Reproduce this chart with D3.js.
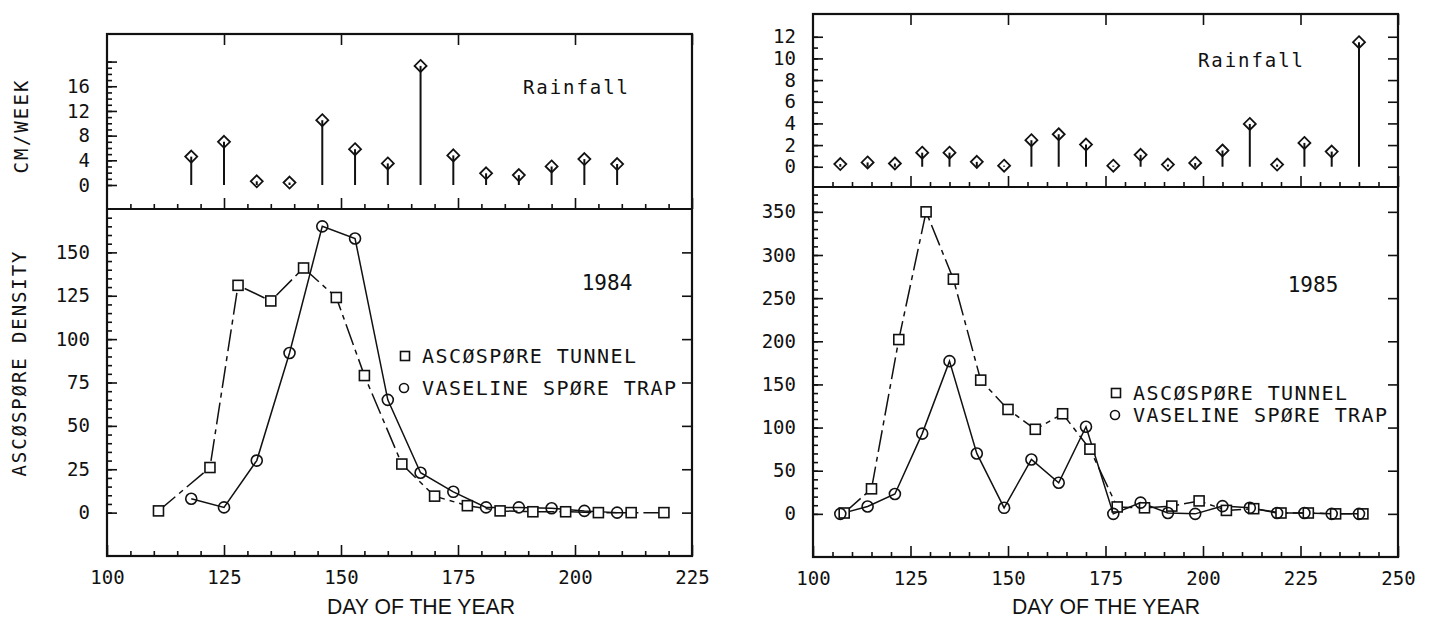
<!DOCTYPE html>
<html>
<head>
<meta charset="utf-8">
<script src="https://cdn.jsdelivr.net/npm/d3@7"></script>
<style>
body { margin: 0; background: #fff; }
svg text { font-family: "DejaVu Sans Mono", monospace; fill: #111; }
</style>
</head>
<body>
<svg width="1434" height="622"></svg>
<script>
// ---- 1984 ----
var rainDays84 = [118, 125, 132, 139, 146, 153, 160, 167, 174, 181, 188, 195, 202, 209];
var rain84 = [4.6, 7.0, 0.6, 0.4, 10.5, 5.8, 3.5, 19.3, 4.8, 1.9, 1.6, 3.0, 4.2, 3.4];
var tunnelDays84 = [111, 122, 128, 135, 142, 149, 155, 163, 170, 177, 184, 191, 198, 205, 212, 219];
var tunnel84 = [1, 26, 131, 122, 141, 124, 79, 28, 9.5, 4, 1, 0.5, 0.5, 0, 0, 0];
var trapDays84 = [118, 125, 132, 139, 146, 153, 160, 167, 174, 181, 188, 195, 202, 209];
var trap84 = [8, 3, 30, 92, 165, 158, 65, 23, 12, 3, 3, 2.5, 1, 0];

// ---- 1985 ----
var rainDays85 = [107, 114, 121, 128, 135, 142, 149, 156, 163, 170, 177, 184, 191, 198, 205, 212, 219, 226, 233, 240];
var rain85 = [0.25, 0.4, 0.3, 1.3, 1.3, 0.45, 0.1, 2.45, 3.0, 2.05, 0.1, 1.1, 0.2, 0.35, 1.5, 3.95, 0.2, 2.2, 1.4, 11.5];
var tunnelDays85 = [108, 115, 122, 129, 136, 143, 150, 157, 164, 171, 178, 185, 192, 199, 206, 213, 220, 227, 234, 241];
var tunnel85 = [1, 29, 202, 350, 272, 155, 121, 98, 116, 75, 8, 7, 9, 15, 4, 6, 1, 1, 0, 0];
var trapDays85 = [107, 114, 121, 128, 135, 142, 149, 156, 163, 170, 177, 184, 191, 198, 205, 212, 219, 226, 233, 240];
var trap85 = [0, 8.5, 23, 93, 177, 70, 7, 63, 36, 101, 0, 13, 1, 0, 9, 7, 1, 1, 0, 0];

// tick labels
var xTicks84 = [100, 125, 150, 175, 200, 225];
var xTicks85 = [100, 125, 150, 175, 200, 225, 250];
var rainTicks84 = [0, 4, 8, 12, 16];
var rainTicks85 = [0, 2, 4, 6, 8, 10, 12];
var densTicks84 = [0, 25, 50, 75, 100, 125, 150];
var densTicks85 = [0, 50, 100, 150, 200, 250, 300, 350];

var svg = d3.select("svg");
var ink = "#111";

function pts(days, vals) {
    return days.map(function(d, i) { return {x: d, y: vals[i]}; });
}

function drawPanel(p) {
    var g = svg.append("g");
    var x = d3.scaleLinear().domain(p.xDomain).range([p.left, p.right]);
    var yR = d3.scaleLinear().domain(p.rainDomain).range([p.sep, p.top]);
    var yD = d3.scaleLinear().domain(p.densDomain).range([p.bottom, p.sep]);

    function ax(axis, tx, ty) {
        var a = g.append("g").attr("transform", "translate(" + tx + "," + ty + ")").call(axis);
        a.select(".domain").remove();
        a.selectAll("line").attr("stroke", ink).attr("stroke-width", 1.6);
        a.selectAll("text").attr("font-family", "DejaVu Sans Mono").attr("font-size", 19).attr("fill", ink);
        a.attr("font-family", null).attr("font-size", null);
        return a;
    }

    var xMinor = d3.range(p.xDomain[0], p.xMax + 1, 5).filter(function(d) { return d % 25 !== 0; });
    var xMajor = p.xTicks;

    // rainfall panel: top ticks (down), bottom ticks (up)
    ax(d3.axisTop(x).tickValues(xMajor.slice(1)).tickSize(-11).tickFormat(""), 0, p.top);
    ax(d3.axisBottom(x).tickValues(xMinor).tickSize(-5).tickFormat(""), 0, p.sep);
    ax(d3.axisBottom(x).tickValues(xMajor.slice(1)).tickSize(-11).tickFormat(""), 0, p.sep);
    // density panel bottom
    ax(d3.axisBottom(x).tickValues(xMinor).tickSize(-5).tickFormat(""), 0, p.bottom);
    ax(d3.axisBottom(x).tickValues(xMajor).tickSize(-11).tickPadding(15).tickFormat(d3.format("d")), 0, p.bottom);

    // rainfall y
    ax(d3.axisLeft(yR).tickValues(d3.range(0, p.rainMinorMax + 0.01, 1)).tickSize(-5).tickFormat(""), p.left, 0);
    ax(d3.axisLeft(yR).tickValues(p.rainMajor).tickSize(-10).tickPadding(17)
        .tickFormat(function(d) { return p.rainTicks.indexOf(d) >= 0 ? d : ""; }), p.left, 0);
    if (p.rainRight) {
        ax(d3.axisRight(yR).tickValues(p.rainTicks).tickSize(-10).tickFormat(""), p.right, 0);
    }

    // density y
    ax(d3.axisLeft(yD).tickValues(d3.range(0, p.densMinorMax + 0.01, p.densMinorStep)).tickSize(-5).tickFormat(""), p.left, 0);
    ax(d3.axisLeft(yD).tickValues(p.densTicks).tickSize(-10).tickPadding(17).tickFormat(d3.format("d")), p.left, 0);
    ax(d3.axisRight(yD).tickValues(p.densTicks).tickSize(-10).tickFormat(""), p.right, 0);

    // frame
    g.append("rect")
        .attr("x", p.left).attr("y", p.top)
        .attr("width", p.right - p.left).attr("height", p.bottom - p.top)
        .attr("fill", "none").attr("stroke", ink).attr("stroke-width", 2.2);
    g.append("line")
        .attr("x1", p.left).attr("x2", p.right).attr("y1", p.sep).attr("y2", p.sep)
        .attr("stroke", ink).attr("stroke-width", 2.2);

    // rainfall stems + diamonds
    var rain = pts(p.rainDays, p.rain);
    g.selectAll(".stem").data(rain).enter().append("line")
        .attr("x1", function(d) { return x(d.x); }).attr("x2", function(d) { return x(d.x); })
        .attr("y1", yR(0)).attr("y2", function(d) { return yR(d.y); })
        .attr("stroke", ink).attr("stroke-width", 2);
    g.selectAll(".dia").data(rain).enter().append("path")
        .attr("d", "M0,-6L6,0L0,6L-6,0Z")
        .attr("transform", function(d) { return "translate(" + x(d.x) + "," + yR(d.y) + ")"; })
        .attr("fill", "none").attr("stroke", ink).attr("stroke-width", 1.8);

    // density lines
    var line = d3.line().x(function(d) { return x(d.x); }).y(function(d) { return yD(d.y); });
    var tunnel = pts(p.tunnelDays, p.tunnel);
    var trap = pts(p.trapDays, p.trap);
    g.append("path").datum(tunnel).attr("d", line)
        .attr("fill", "none").attr("stroke", ink).attr("stroke-width", 1.5)
        .attr("stroke-dasharray", "22,5,5,5");
    g.append("path").datum(trap).attr("d", line)
        .attr("fill", "none").attr("stroke", ink).attr("stroke-width", 1.5);

    g.selectAll(".sq").data(tunnel).enter().append("rect")
        .attr("x", function(d) { return x(d.x) - 5; }).attr("y", function(d) { return yD(d.y) - 5; })
        .attr("width", 10).attr("height", 10)
        .attr("fill", "#fff").attr("stroke", ink).attr("stroke-width", 1.6);
    g.selectAll(".ci").data(trap).enter().append("circle")
        .attr("cx", function(d) { return x(d.x); }).attr("cy", function(d) { return yD(d.y); })
        .attr("r", 5.5)
        .attr("fill", "none").attr("stroke", ink).attr("stroke-width", 1.6);

    // labels
    g.append("text").attr("x", p.rainLabel[0]).attr("y", p.rainLabel[1])
        .attr("dominant-baseline", "central").attr("font-size", 19)
        .attr("textLength", 105).attr("lengthAdjust", "spacing").text("Rainfall");
    g.append("text").attr("x", p.yearLabel[0]).attr("y", p.yearLabel[1])
        .attr("dominant-baseline", "central").attr("text-anchor", "middle").attr("font-size", 21)
        .text(p.year);

    // legend
    var lg = g.append("g").attr("transform", "translate(" + p.legend[0] + "," + p.legend[1] + ")");
    lg.append("rect").attr("x", -4.5).attr("y", -4.5).attr("width", 9).attr("height", 9)
        .attr("fill", "none").attr("stroke", ink).attr("stroke-width", 1.6);
    lg.append("circle").attr("cx", -1).attr("cy", p.legendGap).attr("r", 4.5)
        .attr("fill", "none").attr("stroke", ink).attr("stroke-width", 1.6);
    lg.append("text").attr("x", 17).attr("y", 0).attr("dominant-baseline", "central")
        .attr("font-size", 20).attr("textLength", 214).attr("lengthAdjust", "spacing")
        .text("ASCØSPØRE TUNNEL");
    lg.append("text").attr("x", 17).attr("y", p.legendGap).attr("dominant-baseline", "central")
        .attr("font-size", 20).attr("textLength", 254).attr("lengthAdjust", "spacing")
        .text("VASELINE SPØRE TRAP");

    // x title
    g.append("text").attr("x", p.xTitle[0]).attr("y", p.xTitle[1])
        .attr("dominant-baseline", "central").attr("text-anchor", "middle")
        .style("font-family", "'Liberation Sans Narrow', 'Liberation Sans', Arial, sans-serif")
        .attr("font-size", 22).attr("textLength", 188).attr("lengthAdjust", "spacingAndGlyphs")
        .text("DAY OF THE YEAR");
}

drawPanel({
    left: 107, right: 692, top: 34, sep: 209, bottom: 556,
    xDomain: [100, 225], xMax: 225, xTicks: xTicks84,
    rainDomain: [-3.89, 24.47], rainMajor: [0, 4, 8, 12, 16, 20], rainMinorMax: 20, rainTicks: rainTicks84, rainRight: false,
    densDomain: [-25, 175], densMinorMax: 170, densMinorStep: 5, densTicks: densTicks84,
    rainDays: rainDays84, rain: rain84,
    tunnelDays: tunnelDays84, tunnel: tunnel84, trapDays: trapDays84, trap: trap84,
    rainLabel: [523, 87], yearLabel: [607, 283], year: "1984",
    legend: [405, 356], legendGap: 32, xTitle: [421, 606]
});

drawPanel({
    left: 813, right: 1398, top: 14, sep: 187, bottom: 557,
    xDomain: [100, 250], xMax: 250, xTicks: xTicks85,
    rainDomain: [-1.87, 14.1], rainMajor: rainTicks85, rainMinorMax: 12, rainTicks: rainTicks85, rainRight: true,
    densDomain: [-50, 378.8], densMinorMax: 370, densMinorStep: 10, densTicks: densTicks85,
    rainDays: rainDays85, rain: rain85,
    tunnelDays: tunnelDays85, tunnel: tunnel85, trapDays: trapDays85, trap: trap85,
    rainLabel: [1198, 60], yearLabel: [1313, 285], year: "1985",
    legend: [1116, 393], legendGap: 22, xTitle: [1106, 606]
});

// y titles (left panel only)
svg.append("text").attr("transform", "translate(21,127) rotate(-90)")
    .attr("text-anchor", "middle").attr("dominant-baseline", "central")
    .attr("font-size", 19).attr("textLength", 93).attr("lengthAdjust", "spacing")
    .text("CM/WEEK");
svg.append("text").attr("transform", "translate(19,364) rotate(-90)")
    .attr("text-anchor", "middle").attr("dominant-baseline", "central")
    .attr("font-size", 19).attr("textLength", 225).attr("lengthAdjust", "spacing")
    .text("ASCØSPØRE DENSITY");
</script>
</body>
</html>
